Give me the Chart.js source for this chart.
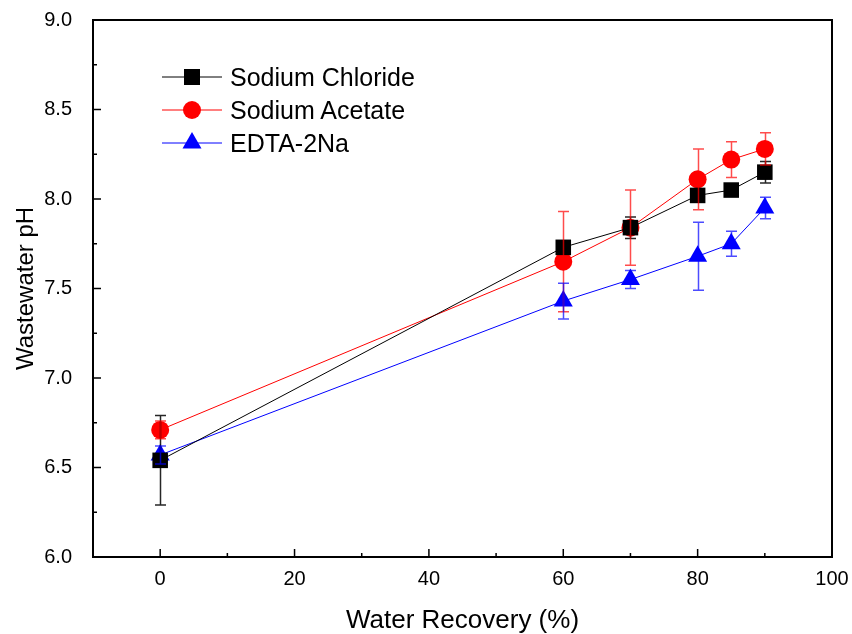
<!DOCTYPE html>
<html>
<head>
<meta charset="utf-8">
<script src="https://cdn.jsdelivr.net/npm/chart.js@4.4.1/dist/chart.umd.min.js"></script>
<style>
  html, body { margin: 0; padding: 0; background: #fff; }
  #wrap { position: relative; width: 852px; height: 634px; }
  #chart { display: block; }
  #legend { position: absolute; left: 162px; top: 0; font-family: Arial, "Liberation Sans", sans-serif; font-size: 25px; color: #000; }
  .row { position: absolute; left: 0; height: 30px; display: flex; align-items: center; white-space: nowrap; }
  .row svg { margin-right: 8px; }
</style>
</head>
<body>
<div id="wrap">
  <canvas id="chart" width="852" height="634"></canvas>
  <div id="legend"></div>
</div>
<script>
// ─── DATA ───
const recovery = [0, 60, 70, 80, 85, 90];
const seriesNames = ['Sodium Chloride', 'Sodium Acetate', 'EDTA-2Na'];
const chloridePH = [6.54, 7.73, 7.84, 8.02, 8.05, 8.15];
const chlorideErr = [0.25, 0.03, 0.06, 0.03, 0.02, 0.06];
const acetatePH = [6.71, 7.65, 7.84, 8.11, 8.22, 8.28];
const acetateErr = [0.05, 0.28, 0.21, 0.17, 0.10, 0.09];
const edtaPH = [6.57, 7.43, 7.55, 7.68, 7.75, 7.95];
const edtaErr = [0.05, 0.10, 0.05, 0.19, 0.07, 0.06];
const xTicks = [0, 20, 40, 60, 80, 100];
const xMinorTicks = [10, 30, 50, 70, 90];
const yTicks = [6.0, 6.5, 7.0, 7.5, 8.0, 8.5, 9.0];
const yMinorTicks = [6.25, 6.75, 7.25, 7.75, 8.25, 8.75];

const FONT = 'Arial, "Liberation Sans", sans-serif';
const colors = ['#000000', '#ff0000', '#0000ff'];
const errColors = ['rgba(0,0,0,0.85)', 'rgba(255,0,0,0.7)', 'rgba(0,0,255,0.7)'];
const styles = ['rect', 'circle', 'triangle'];
const radii = [11, 9, 11];
const values = [chloridePH, acetatePH, edtaPH];
const errors = [chlorideErr, acetateErr, edtaErr];

const toPoints = ys => recovery.map((x, i) => ({ x, y: ys[i] }));

// error bars + inward ticks + frame
const decor = {
  id: 'decor',
  afterDatasetsDraw(chart) {
    const { ctx, scales: { x, y } } = chart;
    ctx.save();
    ctx.lineWidth = 1.5;
    errors.forEach((errs, d) => {
      ctx.strokeStyle = errColors[d];
      recovery.forEach((rx, i) => {
        const px = Math.round(x.getPixelForValue(rx)) + 0.5;
        const top = y.getPixelForValue(values[d][i] + errs[i]);
        const bot = y.getPixelForValue(values[d][i] - errs[i]);
        ctx.beginPath();
        ctx.moveTo(px, top); ctx.lineTo(px, bot);
        ctx.moveTo(px - 5.5, top); ctx.lineTo(px + 5.5, top);
        ctx.moveTo(px - 5.5, bot); ctx.lineTo(px + 5.5, bot);
        ctx.stroke();
      });
    });
    ctx.restore();
  },
  afterDraw(chart) {
    const { ctx, chartArea: a, scales: { x, y } } = chart;
    ctx.save();
    ctx.strokeStyle = '#000';
    ctx.lineWidth = 1.5;
    ctx.beginPath();
    xTicks.forEach(v => { const p = x.getPixelForValue(v); ctx.moveTo(p, a.bottom); ctx.lineTo(p, a.bottom - 8); });
    xMinorTicks.forEach(v => { const p = x.getPixelForValue(v); ctx.moveTo(p, a.bottom); ctx.lineTo(p, a.bottom - 4); });
    yTicks.forEach(v => { const p = y.getPixelForValue(v); ctx.moveTo(a.left, p); ctx.lineTo(a.left + 8, p); });
    yMinorTicks.forEach(v => { const p = y.getPixelForValue(v); ctx.moveTo(a.left, p); ctx.lineTo(a.left + 4, p); });
    ctx.stroke();
    ctx.lineWidth = 2;
    ctx.strokeRect(a.left, a.top, a.right - a.left, a.bottom - a.top);
    ctx.restore();
  }
};

new Chart(document.getElementById('chart'), {
  type: 'scatter',
  data: {
    datasets: seriesNames.map((name, d) => ({
      label: name,
      data: toPoints(values[d]),
      showLine: true,
      borderColor: colors[d],
      borderWidth: 1,
      backgroundColor: colors[d],
      pointBackgroundColor: colors[d],
      pointBorderColor: colors[d],
      pointBorderWidth: 0,
      pointStyle: styles[d],
      pointRadius: radii[d],
      pointHoverRadius: radii[d],
    }))
  },
  options: {
    responsive: false,
    animation: false,
    layout: { padding: { left: 0, right: 20, top: 20, bottom: 0 } },
    plugins: { legend: { display: false }, tooltip: { enabled: false } },
    scales: {
      x: {
        type: 'linear', min: -10, max: 100,
        afterBuildTicks: s => { s.ticks = xTicks.map(v => ({ value: v })); },
        afterFit: s => { s.height = 77; s.paddingLeft = 0; s.paddingRight = 0; },
        grid: { display: false, drawTicks: false },
        border: { display: false },
        ticks: { color: '#000', padding: 10, maxRotation: 0, font: { size: 20, family: FONT } },
        title: { display: true, text: 'Water Recovery (%)', color: '#000', font: { size: 26, family: FONT, lineHeight: 1 }, padding: { top: 1, bottom: 0 } }
      },
      y: {
        type: 'linear', min: 6, max: 9,
        afterBuildTicks: s => { s.ticks = yTicks.map(v => ({ value: v })); },
        afterFit: s => { s.width = 93; s.paddingTop = 0; s.paddingBottom = 0; },
        grid: { display: false, drawTicks: false },
        border: { display: false },
        ticks: { color: '#000', padding: 21, callback: v => v.toFixed(1), font: { size: 20, family: FONT } },
        title: { display: true, text: 'Wastewater pH', color: '#000', font: { size: 24, family: FONT, lineHeight: 1 }, padding: { top: 14, bottom: 0 } }
      }
    }
  },
  plugins: [decor]
});

// legend: line + marker, like the original
const legend = document.getElementById('legend');
const rowTops = [77, 110, 143];
seriesNames.forEach((name, d) => {
  const c = colors[d];
  let mark;
  if (styles[d] === 'rect') mark = `<rect x="22" y="4" width="16" height="16" fill="${c}"/>`;
  else if (styles[d] === 'circle') mark = `<circle cx="30" cy="12" r="9" fill="${c}"/>`;
  else mark = `<polygon points="30,1 39.5,17.5 20.5,17.5" fill="${c}"/>`;
  const row = document.createElement('div');
  row.className = 'row';
  row.style.top = (rowTops[d] - 15) + 'px';
  row.innerHTML = `<svg width="60" height="24"><line x1="0" y1="12" x2="60" y2="12" stroke="${c}" stroke-width="1"/>${mark}</svg><span>${name}</span>`;
  legend.appendChild(row);
});
</script>
</body>
</html>
